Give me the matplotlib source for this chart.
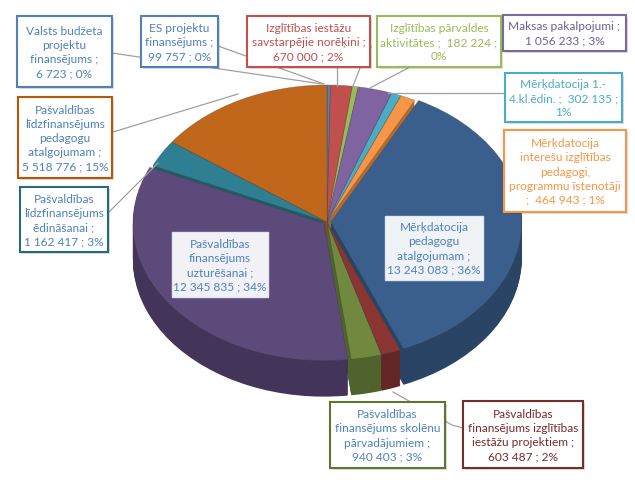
import matplotlib.pyplot as plt
import matplotlib.colors as mcolors
from matplotlib.patches import Rectangle

# dati (pulksteņrādītāja virzienā no augšas)
categories = [
    "Valsts budžeta projektu finansējums",
    "ES projektu finansējums",
    "Izglītības iestāžu savstarpējie norēķini",
    "Izglītības pārvaldes aktivitātes",
    "Maksas pakalpojumi",
    "Mērķdatocija 1.-4.kl.ēdin.",
    "Mērķdatocija interešu izglītības pedagogi, programmu īstenotāji",
    "Mērķdatocija pedagogu atalgojumam",
    "Pašvaldības finansējums izglītības iestāžu projektiem",
    "Pašvaldības finansējums skolēnu pārvadājumiem",
    "Pašvaldības finansējums uzturēšanai",
    "Pašvaldības līdzfinansējums ēdināšanai",
    "Pašvaldības līdzfinansējums pedagogu atalgojumam",
]
values = [6723, 99757, 670000, 182224, 1056233, 302135, 464943,
          13243083, 603487, 940403, 12345835, 1162417, 5518776]

# etiķešu teksts ar rindu pārnesumiem
label_texts = [
    "Valsts budžeta\nprojektu\nfinansējums ;\n{v} ; {p}",
    "ES projektu\nfinansējums ;\n{v} ; {p}",
    "Izglītības iestāžu\nsavstarpējie norēķini ;\n{v} ; {p}",
    "Izglītības pārvaldes\naktivitātes ;  {v} ;\n{p}",
    "Maksas pakalpojumi ;\n{v} ; {p}",
    "Mērķdatocija 1.-\n4.kl.ēdin. ;  {v} ;\n{p}",
    "Mērķdatocija\ninterešu izglītības\npedagogi,\nprogrammu īstenotāji\n;  {v} ; {p}",
    "Mērķdatocija\npedagogu\natalgojumam ;\n{v} ; {p}",
    "Pašvaldības\nfinansējums izglītības\niestāžu projektiem ;\n{v} ; {p}",
    "Pašvaldības\nfinansējums skolēnu\npārvadājumiem ;\n{v} ; {p}",
    "Pašvaldības\nfinansējums\nuzturēšanai ;\n{v} ; {p}",
    "Pašvaldības\nlīdzfinansējums\nēdināšanai ;\n{v} ; {p}",
    "Pašvaldības\nlīdzfinansējums\npedagogu\natalgojumam ;\n{v} ; {p}",
]

# stils
top_colors = ['#4F81BD', '#5A7FB0', '#C0504D', '#9BBB59', '#8064A2', '#4BACC6', '#F79646',
              '#3B5F8C', '#8B3533', '#71893F', '#5C4A7B', '#2E7F91', '#C0671C']
text_colors = ['#4F81BD', '#4F81BD', '#C0504D', '#9BBB59', '#6F5E96', '#4BACC6', '#F79646',
               '#4F81BD', '#772C2A', '#4F81BD', '#4F81BD', '#4F81BD', '#4F81BD']
edge_colors = ['#4F81BD', '#4F81BD', '#C0504D', '#9BBB59', '#7A68A0', '#4BACC6', '#F79646',
               None, '#772C2A', '#5F7530', None, '#276A7C', '#B65708']
explode = [0, 0, 0, 0, 0, 0, 0, 0.02, 0.01, 0.01, 0.02, 0, 0]

# etiķešu kastes pikseļos (x0, y0, x1, y1)
boxes = [(17, 16, 112, 87), (141, 16, 218, 67), (247, 16, 370, 67), (377, 16, 501, 67),
         (503, 15, 626, 51), (505, 73, 622, 122), (504, 130, 626, 212), (385, 216, 483, 280),
         (463, 401, 583, 468), (330, 402, 445, 468), (172, 232, 268, 297), (20, 187, 108, 252),
         (18, 97, 112, 178)]
leaders = [
    [(112, 53), (322, 84)],
    [(218, 46), (324, 84)],
    [(337, 67), (337, 86)],
    [(371, 47), (362, 63), (353, 86)],
    [(410, 67), (370, 88)],
    [(505, 93), (388, 93)],
    None,
    None,
    [(463, 428), (452, 425), (393, 392)],
    None,
    None,
    [(108, 213), (158, 163)],
    [(113, 132), (238, 94)],
]

W, H = 635, 482
fig = plt.figure(figsize=(6.35, 4.82), dpi=100)
fig.patch.set_facecolor('white')

# 3D pīrāgs: elipse ar centru (cx, cy), pusasis rx, ry, biezums depth
cx, cy, rx, ry, depth = 327, 222, 191, 137, 36
d = depth / ry
m = 1.1
left = cx - m * rx
top = cy - m * ry
bottom = cy + (m + d) * ry
ax_pie = fig.add_axes([left / W, 1 - bottom / H, 2 * m * rx / W, (bottom - top) / H])

side_colors = [tuple(c * 0.72 for c in mcolors.to_rgb(col)) for col in top_colors]
n_layers = 30
for k in range(n_layers, 0, -1):
    ax_pie.pie(values, colors=side_colors, startangle=90, counterclock=False,
               explode=explode, center=(0, -d * k / n_layers),
               wedgeprops=dict(linewidth=0))
ax_pie.pie(values, colors=top_colors, startangle=90, counterclock=False,
           explode=explode, center=(0, 0),
           wedgeprops=dict(linewidth=0.5, edgecolor='#40404060'))
ax_pie.set_aspect('auto')
ax_pie.set_xlim(-m, m)
ax_pie.set_ylim(-m - d, m)
ax_pie.axis('off')

# virsējā ass etiķetēm
ax = fig.add_axes([0, 0, 1, 1])
ax.set_xlim(0, W)
ax.set_ylim(H, 0)
ax.axis('off')
ax.patch.set_alpha(0)

total = sum(values)
font = ['Lato', 'DejaVu Sans']
for i, val in enumerate(values):
    v = f"{val:,}".replace(',', ' ')
    p = f"{round(val / total * 100)}%"
    txt = label_texts[i].format(v=v, p=p)
    x0, y0, x1, y1 = boxes[i]
    if leaders[i]:
        xs, ys = zip(*leaders[i])
        ax.plot(xs, ys, color='#A0A0A0', lw=0.9, zorder=1)
    inside = edge_colors[i] is None
    if not inside:
        ax.add_patch(Rectangle((x0 + 2, y0 + 2), x1 - x0, y1 - y0, facecolor='#00000022',
                               edgecolor='none', zorder=2))
    ax.add_patch(Rectangle((x0, y0), x1 - x0, y1 - y0,
                           facecolor='white', alpha=0.93 if inside else 1,
                           edgecolor='#E8ECF4' if inside else edge_colors[i],
                           lw=1.0 if inside else 1.5, zorder=3))
    ax.text((x0 + x1) / 2, (y0 + y1) / 2 + 1, txt, ha='center', va='center',
            multialignment='center', fontsize=8.6, linespacing=1.34,
            color=text_colors[i], family=font, zorder=4)

fig.savefig('out.png', dpi=100)
